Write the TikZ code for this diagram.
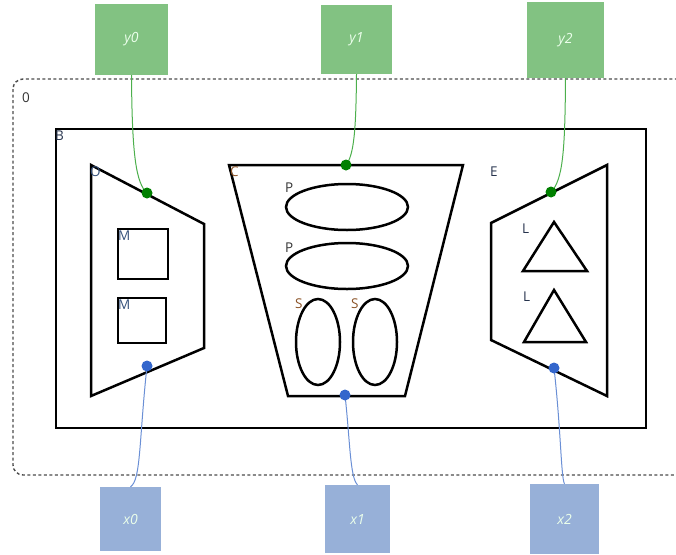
\documentclass[tikz,border=0pt]{standalone}
\usepackage{fontspec}
\setmainfont{Open Sans}
\definecolor{boxgreen}{HTML}{82C282}
\definecolor{boxblue}{HTML}{97B0D8}
\definecolor{dotgreen}{HTML}{008000}
\definecolor{dotblue}{HTML}{3366CC}
\definecolor{linegreen}{HTML}{4CAF4C}
\definecolor{lineblue}{HTML}{6A8FD5}
\definecolor{lblnavy}{HTML}{26334D}
\definecolor{lblblue}{HTML}{34507A}
\definecolor{lblbrown}{HTML}{8A5226}
\definecolor{lblgray}{HTML}{333333}
\tikzset{
  part/.style={draw=black, line width=2.5pt, line join=miter},
  lbl/.style={inner sep=0pt, anchor=north west, font=\fontsize{13.5}{15}\selectfont},
  port/.style={inner sep=0pt, font=\fontsize{14}{16}\selectfont\itshape, text=white!92!green},
  inbox/.style={port, fill=boxgreen},
  outbox/.style={port, fill=boxblue},
  gdot/.style={circle, fill=dotgreen, minimum size=11pt, inner sep=0pt},
  bdot/.style={circle, fill=dotblue, minimum size=11pt, inner sep=0pt},
  gwire/.style={draw=linegreen, line width=1pt},
  bwire/.style={draw=lineblue, line width=1pt},
}
\begin{document}
\begin{tikzpicture}[x=1pt, y=-1pt]
\useasboundingbox (0,0) rectangle (676,554);

% outer dotted container, running past the right edge
\begin{scope}
  \clip (0,0) rectangle (676,554);
  \draw[draw=black!70, line width=1.4pt, dash pattern=on 3pt off 2.5pt, rounded corners=10pt]
    (13,79) rectangle (720,475);
\end{scope}
\node[lbl, text=lblgray] (l0) at (22,93) {0};

% block B
\draw[part] (56,129) rectangle (646,428);
\node[lbl, text=lblnavy] (lB) at (55,131) {B};

% block O
\draw[part] (91,165) -- (204,224) -- (204,348) -- (91,396) -- cycle;
\node[lbl, text=lblblue] (lO) at (90,167) {O};
\draw[part] (118,229) rectangle (168,279);
\node[lbl, text=lblblue] (lM1) at (118,231) {M};
\draw[part] (118,298) rectangle (166,343);
\node[lbl, text=lblblue] (lM2) at (118,300) {M};

% block C
\draw[part] (229,165) -- (463,165) -- (405,396) -- (288,396) -- cycle;
\node[lbl, text=lblbrown] (lC) at (230,167) {C};
\draw[part] (347,207) ellipse [x radius=61, y radius=23];
\node[lbl, text=lblgray] (lP1) at (285,183) {P};
\draw[part] (347,266) ellipse [x radius=61, y radius=23];
\node[lbl, text=lblgray] (lP2) at (285,243) {P};
\draw[part] (318,342) ellipse [x radius=22, y radius=43];
\node[lbl, text=lblbrown] (lS1) at (295,299) {S};
\draw[part] (375,342) ellipse [x radius=22, y radius=43];
\node[lbl, text=lblbrown] (lS2) at (351,299) {S};

% block E
\draw[part] (607,165) -- (607,396) -- (491,340) -- (491,223) -- cycle;
\node[lbl, text=lblnavy] (lE) at (490,167) {E};
\draw[part] (554,222) -- (587,271) -- (523,271) -- cycle;
\node[lbl, text=lblnavy] (lL1) at (522,224) {L};
\draw[part] (554,290) -- (586,342) -- (524,342) -- cycle;
\node[lbl, text=lblnavy] (lL2) at (523,292) {L};

% inputs and outputs
\node[inbox, minimum width=73pt, minimum height=71pt] (y0) at (131.5,39.5) {y0};
\node[inbox, minimum width=71pt, minimum height=69pt] (y1) at (356.5,39.5) {y1};
\node[inbox, minimum width=77pt, minimum height=76pt] (y2) at (565.5,40) {y2};
\node[outbox, minimum width=61pt, minimum height=64pt] (x0) at (130.5,519) {x0};
\node[outbox, minimum width=65pt, minimum height=68pt] (x1) at (357.5,519) {x1};
\node[outbox, minimum width=69pt, minimum height=70pt] (x2) at (564.5,519) {x2};

% port positions on the blocks
\coordinate (oin) at (147,193);
\coordinate (oout) at (147,366);
\coordinate (cin) at (346,165);
\coordinate (cout) at (345,395);
\coordinate (ein) at (551,192);
\coordinate (eout) at (554,368);

% wires
\draw[gwire] (y0.south) .. controls (132,155) and (136,183) .. (oin);
\draw[gwire] (y1.south) .. controls (356,130) and (354,155) .. (cin);
\draw[gwire] (y2.south) .. controls (565,150) and (563,180) .. (ein);
\draw[bwire] (oout) .. controls (139,440) and (141,480) .. (x0.north);
\draw[bwire] (cout) .. controls (350,440) and (350,478) .. (x1.north);
\draw[bwire] (eout) .. controls (561,430) and (561,478) .. (x2.north);

% port dots
\node[gdot] (doin) at (oin) {};
\node[gdot] (dcin) at (cin) {};
\node[gdot] (dein) at (ein) {};
\node[bdot] (doout) at (oout) {};
\node[bdot] (dcout) at (cout) {};
\node[bdot] (deout) at (eout) {};
\end{tikzpicture}
\end{document}
